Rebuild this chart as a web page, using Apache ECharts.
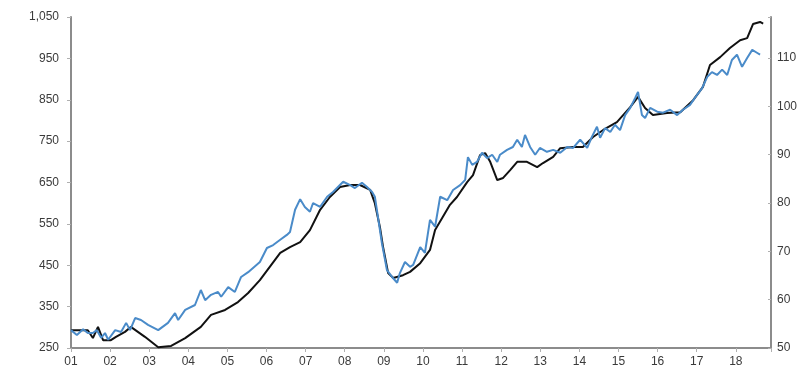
<!DOCTYPE html>
<html>
<head>
<meta charset="utf-8">
<script src="https://cdn.jsdelivr.net/npm/echarts@6/dist/echarts.min.js"></script>
<style>
html,body{margin:0;padding:0;background:#fff;}
#chart{width:807px;height:377px;}
</style>
</head>
<body>
<div id="chart"></div>
<script>
// Black series (left axis) – decimal year and value
var blackDates = [2001.00,2001.43,2001.56,2001.69,2001.82,2002.02,2002.15,2002.38,2002.53,2002.89,2003.23,2003.56,2003.92,2004.32,2004.58,2004.94,2005.27,2005.53,2005.83,2006.35,2006.60,2006.86,2007.11,2007.37,2007.62,2007.88,2008.14,2008.39,2008.65,2008.77,2008.90,2008.98,2009.11,2009.24,2009.49,2009.67,2009.93,2010.18,2010.31,2010.51,2010.69,2010.87,2011.13,2011.28,2011.46,2011.59,2011.72,2011.90,2012.05,2012.23,2012.41,2012.66,2012.92,2013.07,2013.33,2013.51,2013.84,2014.09,2014.35,2014.61,2014.96,2015.30,2015.50,2015.68,2015.88,2016.24,2016.58,2016.91,2017.16,2017.34,2017.60,2017.85,2018.11,2018.29,2018.44,2018.62,2018.70];
var blackValues = [293,293,274,301,269,269,277,289,301,277,252,255,274,301,330,342,361,383,414,480,494,506,535,584,615,639,644,644,632,600,542,494,431,419,426,434,455,487,535,567,596,615,651,668,716,721,700,656,661,680,700,700,687,697,712,733,736,736,760,777,796,832,857,830,813,818,820,849,881,934,953,975,994,999,1033,1038,1034];

// Blue series (right axis) – decimal year and value
var blueDates = [2001.00,2001.15,2001.31,2001.43,2001.56,2001.66,2001.77,2001.87,2001.95,2002.13,2002.28,2002.41,2002.51,2002.64,2002.79,2002.97,2003.23,2003.48,2003.66,2003.74,2003.92,2004.17,2004.32,2004.43,2004.58,2004.76,2004.84,2005.02,2005.19,2005.35,2005.53,2005.58,2005.83,2006.01,2006.17,2006.35,2006.52,2006.60,2006.73,2006.86,2006.98,2007.11,2007.19,2007.37,2007.55,2007.70,2007.96,2008.14,2008.26,2008.44,2008.57,2008.70,2008.77,2008.85,2008.95,2009.08,2009.21,2009.34,2009.41,2009.54,2009.67,2009.75,2009.93,2010.05,2010.18,2010.31,2010.44,2010.62,2010.77,2010.95,2011.08,2011.15,2011.26,2011.38,2011.51,2011.64,2011.77,2011.90,2011.97,2012.15,2012.30,2012.41,2012.53,2012.61,2012.74,2012.87,2012.99,2013.17,2013.33,2013.51,2013.69,2013.84,2014.02,2014.20,2014.32,2014.45,2014.53,2014.66,2014.79,2014.91,2015.04,2015.17,2015.30,2015.43,2015.50,2015.60,2015.68,2015.81,2015.99,2016.14,2016.32,2016.50,2016.65,2016.83,2017.01,2017.14,2017.27,2017.39,2017.52,2017.65,2017.78,2017.90,2018.03,2018.16,2018.29,2018.42,2018.54,2018.62];
var blueValues = [53.7,52.7,53.9,53.1,53.1,53.7,52.1,53.1,51.7,53.7,53.3,55.2,53.7,56.2,55.8,54.8,53.7,55.2,57.2,55.8,57.9,58.9,62.0,59.9,61.0,61.6,60.6,62.6,61.6,64.7,65.7,66.1,67.8,70.7,71.3,72.4,73.4,74.0,78.6,80.8,79.2,78.2,80.0,79.2,81.3,82.3,84.4,83.7,83.1,84.2,83.3,82.3,81.3,77.1,71.7,66.1,64.7,63.5,65.5,67.8,66.8,67.2,70.9,69.7,76.5,75.1,81.3,80.6,82.7,83.7,84.8,89.5,87.9,88.5,90.4,89.3,90.0,88.5,90.0,91.0,91.6,93.1,91.6,94.1,91.6,90.0,91.4,90.6,91.0,90.4,91.6,91.4,93.1,91.4,93.7,95.8,93.5,95.5,94.7,96.2,95.1,98.2,99.7,101.8,103.0,98.2,97.6,99.7,98.9,98.7,99.3,98.2,99.3,100.3,102.4,103.8,106.1,107.1,106.5,107.6,106.5,109.6,110.7,108.2,110.0,111.7,111.1,110.7];

function zip(a, b) { return a.map(function (v, i) { return [v, b[i]]; }); }

var axisGray = '#8c8c8c';
var labelStyle = { color: '#3a3a3a', fontSize: 12, fontFamily: 'Liberation Sans, Arial, sans-serif' };

var chart = echarts.init(document.getElementById('chart'), null, { renderer: 'canvas' });
chart.setOption({
  animation: false,
  backgroundColor: '#ffffff',
  grid: { left: 71, right: 36, top: 17, bottom: 29 },
  xAxis: {
    type: 'value', min: 2001, max: 2018.9, interval: 1,
    axisLine: { show: true, onZero: false, lineStyle: { color: axisGray, width: 2 } },
    axisTick: { show: true, inside: false, length: 4, lineStyle: { color: '#b0b0b0', width: 1 } },
    splitLine: { show: false },
    axisLabel: Object.assign({}, labelStyle, {
      margin: 8,
      formatter: function (v) {
        if (Math.abs(v - Math.round(v)) > 1e-6) return '';
        var y = Math.round(v) % 100;
        return (y < 10 ? '0' : '') + y;
      }
    })
  },
  yAxis: [
    {
      type: 'value', min: 250, max: 1050, interval: 100, position: 'left',
      axisLine: { show: true, lineStyle: { color: axisGray, width: 2 } },
      axisTick: { show: true, inside: false, length: 4, lineStyle: { color: '#b0b0b0', width: 1 } },
      splitLine: { show: false },
      axisLabel: Object.assign({}, labelStyle, {
        margin: 12,
        formatter: function (v) { return v >= 1000 ? Math.floor(v / 1000) + ',' + String(v % 1000).padStart(3, '0') : String(v); }
      })
    },
    {
      type: 'value', min: 50, max: 118.5, interval: 10, position: 'right',
      axisLine: { show: true, lineStyle: { color: axisGray, width: 2 } },
      axisTick: { show: true, inside: true, length: 3, lineStyle: { color: '#b0b0b0', width: 1 } },
      splitLine: { show: false },
      axisLabel: Object.assign({}, labelStyle, {
        margin: 6,
        formatter: function (v) { return v > 110.01 ? '' : String(Math.round(v)); }
      })
    }
  ],
  series: [
    {
      type: 'line', yAxisIndex: 0, data: zip(blackDates, blackValues),
      showSymbol: false, symbol: 'none', smooth: false,
      lineStyle: { color: '#111111', width: 2 }, z: 2
    },
    {
      type: 'line', yAxisIndex: 1, data: zip(blueDates, blueValues),
      showSymbol: false, symbol: 'none', smooth: false,
      lineStyle: { color: '#4a8bc9', width: 2 }, z: 3
    }
  ]
});
</script>
</body>
</html>
